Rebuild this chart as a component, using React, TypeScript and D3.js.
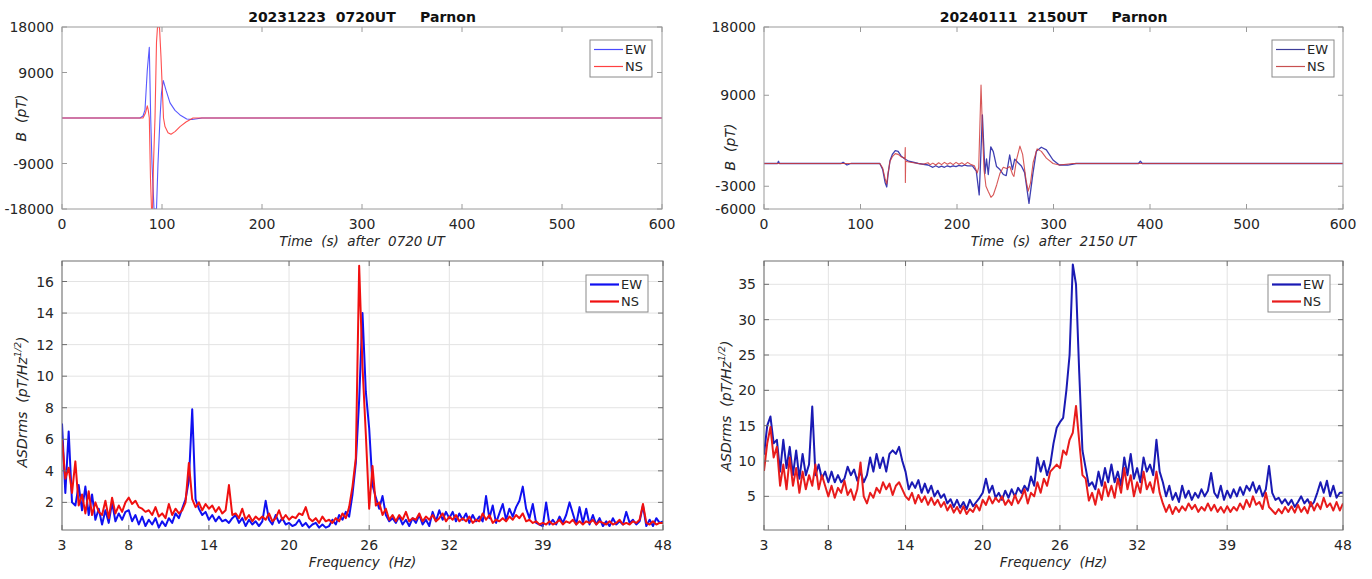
import React from "react";
import * as d3 from "d3";

// ---- time domain, key points: [t (s), B (pT)]
const ewJan: [number, number][] = [
  [0, 0], [78, 0], [81, 400], [83, 1600], [85.3, 9500], [87.3, 14000], [88.7, 0], [90, -9000],
  [92, -18000], [94.5, -18000], [96, -9000], [98, 0], [99.5, 5000], [101.3, 7400], [104, 5500],
  [108, 3000], [113, 1500], [118, 600], [124.7, -200], [130, -300], [140, 0], [600, 0],
];
const nsJan: [number, number][] = [
  [0, 0], [81, 0], [83.5, 1000], [85.3, 2400], [86.3, 1500], [87.3, 0], [88.5, -12000],
  [89.5, -18000], [90.5, -18000], [91.5, -9000], [93, 0], [94.5, 15000], [95.5, 18000],
  [97.5, 18000], [99, 12000], [101.5, 0], [103, -1700], [106, -2900], [109, -3200], [113, -2700],
  [118, -1700], [124, -800], [131, 0], [600, 0],
];
const ewFeb: [number, number][] = [
  [0, 0], [14, 0], [15, 300], [16, 0], [80, 0], [82, 150], [86, -200], [90, 0], [120, 0],
  [123, -800], [125.5, -2500], [127.2, -3100], [128.5, -1500], [130.6, 400], [133, 1200],
  [136, 1700], [139, 1600], [142, 1000], [146, 600], [150, 300], [160, 0], [170, -200],
  [175, -500], [178, -300], [181, -500], [184, -350], [187, -500], [190, -300], [193, -450],
  [196, -300], [199, -400], [202, -250], [205, -350], [208, -200], [211, -300], [216, -300],
  [220, -1000], [223, -4150], [224.5, 500], [226.3, 6400], [229, -1300], [230.6, 600],
  [232.4, -1450], [235, 2200], [237.6, 1560], [241, -400], [244.5, -800], [248, -1450],
  [251, -1600], [254.6, 1120], [257.4, -800], [259.8, 570], [263, 130], [266.7, -330],
  [270.1, -1200], [274.6, -5250], [278.8, -1200], [282.2, 1600], [287.4, 2140], [292.6, 1800],
  [299.5, 460], [306, -200], [314.8, -200], [323.4, 0], [388, 0], [390, 300], [392, 0], [600, 0],
];
const nsFeb: [number, number][] = [
  [0, 0], [120, 0], [123, -600], [125.5, -2000], [127.2, -2700], [128.5, -1300], [130.6, 300],
  [133, 900], [136, 1300], [139, 1200], [142, 900], [146, 700], [146.4, 2100], [146.5, -2500],
  [146.8, 300], [150, 200], [160, 0], [165, -100], [170, 100], [172, -150], [175, 50],
  [178, -200], [181, 100], [184, -150], [187, 150], [190, -100], [193, 100], [196, -150],
  [199, 150], [202, -100], [205, 100], [208, -150], [211, 150], [214, -100], [218, -300],
  [221, -1250], [222.5, -500], [224.9, 10350], [226.5, 4000], [228, -800], [230, -3000],
  [232.4, -3700], [235.2, -4460], [237.6, -4150], [241.1, -2830], [244.5, -1300], [248, -500],
  [251.4, -650], [254.8, -400], [257.6, -1450], [259, -1700], [261.7, 500], [265.2, 2300],
  [268, 1200], [271.4, -2100], [273.8, -3650], [276.2, -2550], [278.9, 130], [283, 1930],
  [287.4, 1600], [292.6, 700], [299.5, 0], [306, -200], [320, 0], [600, 0],
];

// ---- spectra, 3..48 Hz every 0.25 Hz
const freqs = d3.range(0, 181).map(i => 3 + i * 0.25);

const asdEwJan = [
  7.0, 2.6, 6.5, 2.0, 1.8, 3.1, 1.5, 3.0, 1.2, 2.5, 0.9, 1.6, 0.6, 1.5, 0.7, 2.0, 0.8, 1.3, 0.9, 1.4,
  1.5, 0.8, 1.2, 0.6, 1.1, 0.5, 0.9, 0.6, 1.0, 0.4, 0.8, 0.5, 1.0, 0.7, 1.3, 1.0, 1.6, 2.2, 3.4, 7.9,
  2.2, 1.6, 1.2, 1.4, 0.9, 1.2, 0.8, 1.1, 0.8, 0.9, 0.7, 1.0, 1.2, 0.7, 1.0, 0.5, 0.9, 0.6, 0.8, 0.5,
  0.8, 2.1, 0.9, 0.6, 1.2, 0.7, 1.0, 0.6, 0.7, 0.5, 0.6, 0.9, 0.5, 0.7, 0.4, 0.6, 0.7, 0.4, 0.6, 0.4,
  0.5, 0.9, 0.6, 1.2, 0.9, 1.4, 1.1, 2.5, 4.5, 8.5, 14.0, 9.0, 6.7, 3.1, 2.3, 1.6, 2.4, 1.2, 0.8, 1.0,
  0.7, 1.1, 0.6, 0.9, 0.5, 1.0, 0.7, 1.2, 0.6, 0.9, 0.5, 1.4, 0.8, 1.5, 0.9, 1.4, 1.0, 1.4, 0.8, 1.3,
  0.9, 1.3, 0.7, 1.2, 0.8, 1.1, 0.8, 2.4, 1.0, 1.8, 0.7, 1.3, 1.9, 0.9, 1.6, 1.1, 1.7, 2.1, 3.0, 1.6,
  1.0, 1.9, 0.7, 0.6, 0.5, 2.0, 0.6, 0.9, 0.6, 1.1, 0.7, 1.2, 2.0, 1.3, 0.6, 1.7, 0.7, 1.6, 0.6, 1.2,
  0.6, 1.0, 0.5, 0.8, 0.5, 1.0, 0.6, 0.8, 0.6, 1.4, 0.7, 0.9, 0.6, 0.8, 1.8, 0.5, 0.9, 0.5, 1.0, 0.7,
  0.8,
];
const asdNsJan = [
  6.0, 3.5, 4.2, 2.6, 4.6, 1.8, 2.5, 1.3, 2.7, 1.2, 2.0, 1.4, 1.2, 2.1, 1.0, 2.3, 1.3, 1.8, 1.4, 2.0,
  2.3, 1.9, 2.1, 1.7, 1.6, 1.4, 1.5, 1.2, 1.7, 1.1, 1.3, 1.0, 1.9, 1.2, 1.6, 1.3, 1.5, 2.0, 4.5, 2.2,
  1.7, 2.0, 1.5, 1.9, 1.6, 1.8, 1.4, 1.7, 1.3, 1.5, 3.1, 1.2, 1.3, 1.0, 1.6, 0.9, 1.2, 0.8, 1.1, 0.9,
  1.1, 0.9, 1.3, 0.8, 1.0, 1.5, 0.9, 1.2, 0.9, 1.1, 1.0, 1.3, 1.2, 1.7, 1.0, 0.8, 1.0, 0.7, 1.1, 0.8,
  0.9, 0.7, 1.0, 0.8, 1.3, 1.0, 1.7, 3.0, 4.8, 17.0, 10.6, 6.3, 1.6, 4.3, 1.8, 2.0, 1.2, 1.6, 0.9, 1.2,
  0.8, 1.2, 0.9, 1.4, 0.8, 1.0, 0.9, 1.3, 0.8, 1.1, 0.9, 1.2, 0.8, 1.0, 1.3, 0.8, 1.1, 0.9, 1.2, 0.8,
  1.0, 0.8, 1.1, 0.7, 0.9, 0.8, 1.3, 0.9, 1.2, 0.7, 0.9, 0.8, 1.0, 0.8, 1.1, 0.9, 1.2, 1.0, 1.3, 0.8,
  0.9, 0.7, 0.8, 0.6, 0.7, 0.6, 0.8, 0.6, 0.7, 0.9, 0.6, 0.8, 0.7, 0.9, 0.6, 0.8, 0.6, 0.8, 0.7, 0.9,
  0.6, 0.8, 0.7, 0.6, 0.8, 0.6, 0.7, 0.9, 0.6, 0.7, 0.6, 0.8, 0.7, 0.9, 1.9, 0.7, 0.6, 0.8, 0.6, 0.7,
  0.7,
];
const asdEwFeb = [
  10.9, 15.0, 16.3, 12.5, 13.0, 8.5, 13.0, 9.0, 12.0, 8.0, 11.5, 7.5, 11.0, 8.0, 9.5, 17.7, 8.0, 9.5, 7.5, 8.5,
  7.0, 8.5, 7.0, 8.0, 7.0, 7.5, 9.2, 8.0, 8.8, 7.2, 8.5, 7.0, 8.0, 10.5, 8.5, 11.0, 9.0, 10.5, 8.5, 11.0,
  11.5, 11.0, 12.0, 10.0, 8.5, 6.0, 7.0, 6.2, 7.3, 5.5, 6.8, 5.5, 6.5, 5.0, 5.8, 4.8, 5.3, 4.0, 4.6, 3.5,
  4.5, 3.4, 4.2, 3.2, 4.5, 3.6, 4.2, 4.8, 5.5, 7.5, 5.5, 6.5, 4.8, 5.5, 4.5, 5.8, 4.8, 6.0, 5.0, 6.2,
  5.5, 6.5, 5.8, 7.8, 6.5, 10.5, 8.5, 10.0, 8.0, 9.5, 12.5, 14.7, 15.5, 16.1, 20.0, 25.0, 37.8, 35.0, 22.5, 11.5,
  9.0, 6.5, 7.0, 6.0, 8.5, 6.5, 9.0, 7.0, 9.5, 7.0, 8.5, 6.5, 10.5, 8.0, 11.0, 7.5, 9.0, 7.0, 10.5, 8.5,
  9.5, 8.0, 13.0, 8.5, 7.0, 5.0, 6.5, 4.5, 5.5, 4.2, 6.5, 4.8, 5.8, 4.5, 5.5, 4.8, 6.0, 5.0, 5.8, 8.3,
  5.5, 4.8, 6.5, 4.5, 5.8, 4.8, 6.0, 5.0, 6.3, 5.2, 6.5, 5.8, 7.0, 5.5, 6.5, 5.0, 6.0, 9.3, 5.5, 4.5,
  4.8, 4.0, 4.6, 3.8, 4.5, 3.5, 4.2, 5.0, 4.0, 4.6, 3.6, 4.2, 5.5, 7.0, 5.5, 7.2, 5.0, 6.5, 4.8, 5.5,
  5.5,
];
const asdNsFeb = [
  8.6, 12.5, 14.8, 10.5, 12.0, 6.5, 9.5, 6.0, 10.5, 6.5, 9.0, 5.5, 8.5, 6.0, 8.0, 6.5, 9.5, 6.0, 8.0, 6.5,
  5.0, 6.5, 4.8, 6.2, 5.5, 7.2, 5.2, 6.0, 4.5, 6.0, 9.8, 5.0, 4.0, 5.5, 4.8, 6.2, 5.5, 7.0, 6.0, 6.8,
  5.2, 6.5, 7.0, 6.0, 5.0, 4.5, 5.5, 4.0, 5.2, 4.2, 5.0, 3.8, 4.8, 3.8, 4.5, 3.5, 4.2, 3.0, 3.8, 2.7,
  3.5, 2.6, 3.6, 2.5, 3.2, 2.8, 3.8, 3.0, 4.5, 3.8, 5.0, 4.0, 4.8, 4.2, 5.0, 3.8, 4.5, 3.8, 5.2, 4.0,
  4.8, 6.0, 4.0, 5.5, 5.0, 7.0, 5.5, 7.5, 6.5, 8.5, 9.0, 9.5, 9.0, 11.5, 10.9, 13.0, 14.0, 17.8, 12.8, 8.0,
  7.5, 4.4, 5.5, 3.8, 6.0, 4.5, 7.0, 5.0, 6.5, 4.8, 7.5, 5.5, 9.0, 6.0, 8.0, 5.0, 7.0, 5.5, 8.5, 6.0,
  7.0, 5.5, 8.5, 5.5, 4.0, 2.8, 3.8, 2.5, 3.5, 2.8, 3.6, 3.0, 4.0, 3.2, 3.8, 2.8, 3.5, 3.0, 4.0, 3.0,
  3.8, 2.8, 3.5, 2.7, 3.6, 2.8, 3.5, 3.0, 4.0, 3.2, 4.5, 3.5, 5.0, 3.8, 4.2, 3.2, 5.5, 3.5, 3.0, 2.5,
  3.2, 2.6, 3.5, 2.8, 3.6, 2.7, 3.8, 2.8, 3.5, 2.6, 4.2, 3.0, 4.0, 3.2, 4.8, 3.5, 4.0, 3.0, 4.2, 3.0,
  4.0,
];

const timeTicks = [0, 100, 200, 300, 400, 500, 600];
const freqTicks = [3, 8, 14, 20, 26, 32, 39, 48];
const bTicksJan = [-18000, -9000, 9000, 18000];
const bTicksFeb = [-6000, -3000, 9000, 18000];
const asdTicksJan = [2, 4, 6, 8, 10, 12, 14, 16];
const asdTicksFeb = [5, 10, 15, 20, 25, 30, 35];

const FONT = "'DejaVu Sans', 'Liberation Sans', sans-serif";

type Series = { data: [number, number][]; color: string; width: number; opacity?: number };

function Panel(props: {
  id: string;
  box: { x0: number; x1: number; y0: number; y1: number };
  xDomain: [number, number];
  yDomain: [number, number];
  xTicks: number[];
  yTicks: number[];
  grid: boolean;
  frame: string;
  series: Series[];
  title?: string;
  xLabel: string;
  yLabel: React.ReactNode;
  yLabelPos: [number, number];
  legend: { x: number; y: number; ew: string; ns: string; width: number };
}) {
  const { id, box, grid, frame, series, legend } = props;
  const x = d3.scaleLinear().domain(props.xDomain).range([box.x0, box.x1]);
  const y = d3.scaleLinear().domain(props.yDomain).range([box.y1, box.y0]);
  const line = d3.line<[number, number]>().x(d => x(d[0])).y(d => y(d[1]));
  const tl = 5;
  const cx = (box.x0 + box.x1) / 2;

  return (
    <g>
      <defs>
        <clipPath id={id}>
          <rect x={box.x0} y={box.y0} width={box.x1 - box.x0} height={box.y1 - box.y0} />
        </clipPath>
      </defs>
      <rect x={box.x0} y={box.y0} width={box.x1 - box.x0} height={box.y1 - box.y0} fill="#fff" />
      {grid && (
        <g stroke="#e3e3e3" strokeWidth={1}>
          {props.xTicks.map(t => (
            <line key={"gx" + t} x1={x(t)} x2={x(t)} y1={box.y0} y2={box.y1} />
          ))}
          {props.yTicks.map(t => (
            <line key={"gy" + t} x1={box.x0} x2={box.x1} y1={y(t)} y2={y(t)} />
          ))}
        </g>
      )}
      <g clipPath={`url(#${id})`}>
        {series.map((s, i) => (
          <path key={i} d={line(s.data) || ""} fill="none" stroke={s.color} strokeWidth={s.width}
            strokeOpacity={s.opacity ?? 1} strokeLinejoin="round" />
        ))}
      </g>
      <g stroke={frame} strokeWidth={1}>
        {props.xTicks.map(t => (
          <g key={"tx" + t}>
            <line x1={x(t)} x2={x(t)} y1={box.y1} y2={box.y1 - tl} />
            <line x1={x(t)} x2={x(t)} y1={box.y0} y2={box.y0 + tl} />
          </g>
        ))}
        {props.yTicks.map(t => (
          <g key={"ty" + t}>
            <line x1={box.x0} x2={box.x0 + tl} y1={y(t)} y2={y(t)} />
            <line x1={box.x1} x2={box.x1 - tl} y1={y(t)} y2={y(t)} />
          </g>
        ))}
        <rect x={box.x0} y={box.y0} width={box.x1 - box.x0} height={box.y1 - box.y0} fill="none" />
      </g>
      <g fontFamily={FONT} fontSize={14} fill="#262626">
        {props.xTicks.map(t => (
          <text key={"lx" + t} x={x(t)} y={box.y1 + 20} textAnchor="middle">{t}</text>
        ))}
        {props.yTicks.map(t => (
          <text key={"ly" + t} x={box.x0 - 8} y={y(t) + 5} textAnchor="end">{t}</text>
        ))}
      </g>
      {props.title && (
        <text x={cx} y={22} textAnchor="middle" fontFamily={FONT} fontSize={14} fontWeight="bold"
          fill="#111" style={{ whiteSpace: "pre" }}>{props.title}</text>
      )}
      <text x={cx} y={box.y1 + 37} textAnchor="middle" fontFamily={FONT} fontSize={13.5}
        fontStyle="italic" fill="#262626" style={{ whiteSpace: "pre" }}>{props.xLabel}</text>
      <text transform={`translate(${props.yLabelPos[0]},${props.yLabelPos[1]}) rotate(-90)`}
        textAnchor="middle" fontFamily={FONT} fontSize={14} fontStyle="italic" fill="#262626"
        style={{ whiteSpace: "pre" }}>{props.yLabel}</text>
      <g>
        <rect x={legend.x} y={legend.y} width={62} height={37} fill="#fff" stroke="#8a8a8a" />
        <line x1={legend.x + 4} x2={legend.x + 33} y1={legend.y + 9.5} y2={legend.y + 9.5}
          stroke={legend.ew} strokeWidth={legend.width} />
        <line x1={legend.x + 4} x2={legend.x + 33} y1={legend.y + 26.5} y2={legend.y + 26.5}
          stroke={legend.ns} strokeWidth={legend.width} />
        <g fontFamily={FONT} fontSize={13} fill="#262626">
          <text x={legend.x + 35} y={legend.y + 14}>EW</text>
          <text x={legend.x + 35} y={legend.y + 31}>NS</text>
        </g>
      </g>
    </g>
  );
}

const asdLabel = (
  <>
    {"ASDrms  (pT/Hz"}
    <tspan fontSize={9.5} dy={-6}>1/2</tspan>
    <tspan dy={6}>)</tspan>
  </>
);

export default function App() {
  const toPairs = (v: number[]) => freqs.map((f, i) => [f, v[i]] as [number, number]);
  return (
    <svg width={1372} height={579} style={{ position: "absolute", left: 0, top: 0, background: "#fff" }}>
      <rect width={1372} height={579} fill="#fff" />
      <Panel
        id="c1"
        box={{ x0: 62, x1: 662, y0: 27, y1: 209 }}
        xDomain={[0, 600]}
        yDomain={[-18000, 18000]}
        xTicks={timeTicks}
        yTicks={bTicksJan}
        grid={false}
        frame="#9a9a9a"
        series={[
          { data: ewJan, color: "#3b3bff", width: 1.1, opacity: 0.85 },
          { data: nsJan, color: "#ff3030", width: 1.1, opacity: 0.85 },
        ]}
        title={"20231223  0720UT     Parnon"}
        xLabel={"Time  (s)  after  0720 UT"}
        yLabel={"B  (pT)"}
        yLabelPos={[26, 118]}
        legend={{ x: 590, y: 40, ew: "#4a4aff", ns: "#ff4040", width: 1.2 }}
      />
      <Panel
        id="c2"
        box={{ x0: 764, x1: 1343, y0: 27, y1: 209 }}
        xDomain={[0, 600]}
        yDomain={[-6000, 18000]}
        xTicks={timeTicks}
        yTicks={bTicksFeb}
        grid={false}
        frame="#9a9a9a"
        series={[
          { data: ewFeb, color: "#2a2aa8", width: 1.3, opacity: 0.9 },
          { data: nsFeb, color: "#d03a3a", width: 1.1, opacity: 0.85 },
        ]}
        title={"20240111  2150UT     Parnon"}
        xLabel={"Time  (s)  after  2150 UT"}
        yLabel={"B  (pT)"}
        yLabelPos={[735, 147]}
        legend={{ x: 1272, y: 40, ew: "#3d3d99", ns: "#c85050", width: 1.2 }}
      />
      <Panel
        id="c3"
        box={{ x0: 62, x1: 663, y0: 261, y1: 530 }}
        xDomain={[3, 48]}
        yDomain={[0.25, 17.3]}
        xTicks={freqTicks}
        yTicks={asdTicksJan}
        grid={true}
        frame="#6e6e6e"
        series={[
          { data: toPairs(asdEwJan), color: "#1010f0", width: 2 },
          { data: toPairs(asdNsJan), color: "#f01010", width: 2 },
        ]}
        xLabel={"Frequency  (Hz)"}
        yLabel={asdLabel}
        yLabelPos={[27, 402]}
        legend={{ x: 586, y: 275, ew: "#1010f0", ns: "#f01010", width: 2.2 }}
      />
      <Panel
        id="c4"
        box={{ x0: 764, x1: 1343, y0: 261, y1: 530 }}
        xDomain={[3, 48]}
        yDomain={[0.24, 38.3]}
        xTicks={freqTicks}
        yTicks={asdTicksFeb}
        grid={true}
        frame="#6e6e6e"
        series={[
          { data: toPairs(asdEwFeb), color: "#1a1ab4", width: 2 },
          { data: toPairs(asdNsFeb), color: "#e81c1c", width: 2 },
        ]}
        xLabel={"Frequency  (Hz)"}
        yLabel={asdLabel}
        yLabelPos={[731, 406]}
        legend={{ x: 1268, y: 275, ew: "#1a1ab4", ns: "#e81c1c", width: 2.2 }}
      />
    </svg>
  );
}
